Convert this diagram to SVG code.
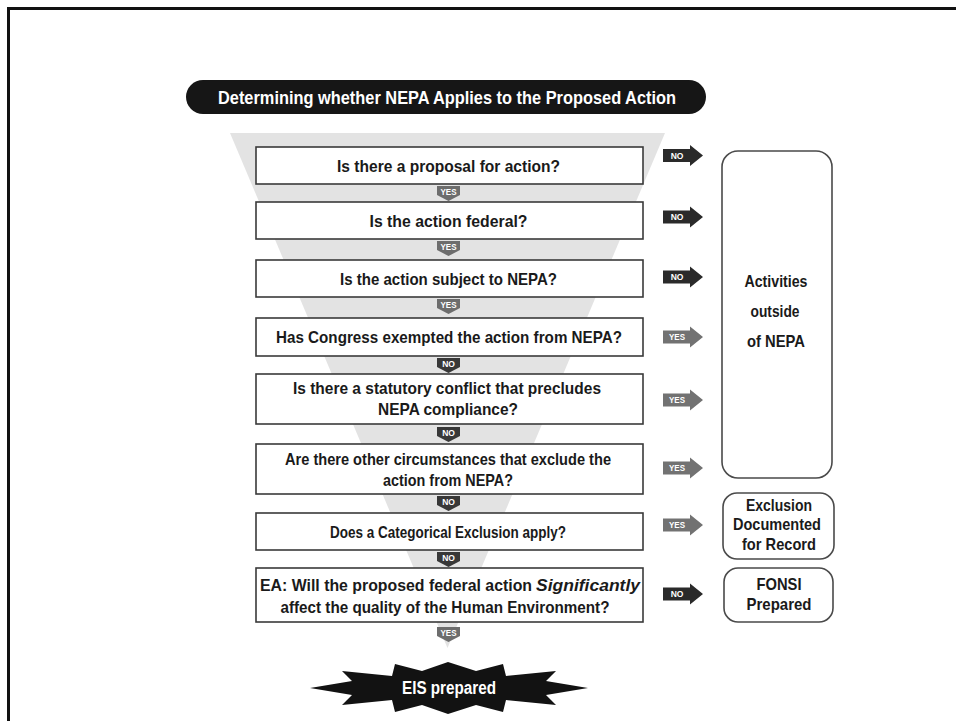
<svg xmlns="http://www.w3.org/2000/svg" width="956" height="721" viewBox="0 0 956 721">
  <style>
    .q { fill: #fff; stroke: #3a3a3a; stroke-width: 1.6; }
    .qt { font-family: "Liberation Sans", Arial, sans-serif; font-weight: 700; font-size: 16.5px; fill: #1a1a1a; text-anchor: middle; }
    .rt { font-family: "Liberation Sans", Arial, sans-serif; font-weight: 700; font-size: 16.5px; fill: #1a1a1a; text-anchor: middle; }
    .res { fill: #fff; stroke: #4a4a4a; stroke-width: 1.6; }
    .tab-yes { fill: #6d6d6d; }
    .tab-no { fill: #383838; }
    .arr-no { fill: #2a2a2a; }
    .arr-yes { fill: #727272; }
    .lbl { font-family: "Liberation Sans", Arial, sans-serif; font-weight: 700; font-size: 8.5px; fill: #fff; text-anchor: middle; }
    .white { font-family: "Liberation Sans", Arial, sans-serif; font-weight: 700; fill: #fff; text-anchor: middle; }
  </style>
  <defs>
    <!-- right-pointing answer arrow, origin at left edge / vertical centre -->
    <path id="rarrow" d="M0,-6.5 H27 V-10.5 L40,0 L27,10.5 V6.5 H0 Z"/>
    <!-- downward answer tab, origin at top centre -->
    <path id="dtab" d="M-11.5,0 H11.5 V9 L0,15 L-11.5,9 Z"/>
  </defs>

  <rect width="956" height="721" fill="#fff"/>
  <!-- page frame -->
  <path d="M8.5,721 V8.5 H956" fill="none" stroke="#111" stroke-width="3"/>

  <!-- title -->
  <g id="title">
    <rect x="186" y="80" width="520" height="34" rx="17" fill="#161616"/>
    <text class="white" x="447" y="103.5" font-size="18.5" textLength="458" lengthAdjust="spacingAndGlyphs">Determining whether NEPA Applies to the Proposed Action</text>
  </g>

  <!-- funnel backdrop -->
  <polygon points="230,133 665,133 447.5,648" fill="#e3e3e3"/>

  <!-- connectors: answer tabs and arrows -->
  <g id="connectors">
    <use href="#dtab" class="tab-yes" x="448.5" y="186"/>
    <text class="lbl" x="448.5" y="194.5" textLength="16" lengthAdjust="spacingAndGlyphs">YES</text>
    <use href="#dtab" class="tab-yes" x="448.5" y="241"/>
    <text class="lbl" x="448.5" y="249.5" textLength="16" lengthAdjust="spacingAndGlyphs">YES</text>
    <use href="#dtab" class="tab-yes" x="448.5" y="299"/>
    <text class="lbl" x="448.5" y="307.5" textLength="16" lengthAdjust="spacingAndGlyphs">YES</text>
    <use href="#dtab" class="tab-no" x="448.5" y="358"/>
    <text class="lbl" x="448.5" y="366.5">NO</text>
    <use href="#dtab" class="tab-no" x="448.5" y="427"/>
    <text class="lbl" x="448.5" y="435.5">NO</text>
    <use href="#dtab" class="tab-no" x="448.5" y="496"/>
    <text class="lbl" x="448.5" y="504.5">NO</text>
    <use href="#dtab" class="tab-no" x="448.5" y="552"/>
    <text class="lbl" x="448.5" y="560.5">NO</text>
    <use href="#dtab" class="tab-yes" x="448.5" y="627"/>
    <text class="lbl" x="448.5" y="635.5" textLength="16" lengthAdjust="spacingAndGlyphs">YES</text>

    <use href="#rarrow" class="arr-no" x="663" y="155.5"/>
    <text class="lbl" x="677" y="158.5">NO</text>
    <use href="#rarrow" class="arr-no" x="663" y="217"/>
    <text class="lbl" x="677" y="220">NO</text>
    <use href="#rarrow" class="arr-no" x="663" y="277"/>
    <text class="lbl" x="677" y="280">NO</text>
    <use href="#rarrow" class="arr-yes" x="663" y="337"/>
    <text class="lbl" x="677" y="340" textLength="16" lengthAdjust="spacingAndGlyphs">YES</text>
    <use href="#rarrow" class="arr-yes" x="663" y="400"/>
    <text class="lbl" x="677" y="403" textLength="16" lengthAdjust="spacingAndGlyphs">YES</text>
    <use href="#rarrow" class="arr-yes" x="663" y="468"/>
    <text class="lbl" x="677" y="471" textLength="16" lengthAdjust="spacingAndGlyphs">YES</text>
    <use href="#rarrow" class="arr-yes" x="663" y="525"/>
    <text class="lbl" x="677" y="528" textLength="16" lengthAdjust="spacingAndGlyphs">YES</text>
    <use href="#rarrow" class="arr-no" x="663" y="594"/>
    <text class="lbl" x="677" y="597">NO</text>
  </g>

  <!-- question boxes -->
  <g id="q1">
    <rect class="q" x="256" y="147" width="387" height="37"/>
    <text class="qt" x="448.5" y="171.5" textLength="223" lengthAdjust="spacingAndGlyphs">Is there a proposal for action?</text>
  </g>
  <g id="q2">
    <rect class="q" x="256" y="202" width="387" height="37"/>
    <text class="qt" x="448.5" y="226.5" textLength="158" lengthAdjust="spacingAndGlyphs">Is the action federal?</text>
  </g>
  <g id="q3">
    <rect class="q" x="256" y="260" width="387" height="37"/>
    <text class="qt" x="448.5" y="284.5" textLength="217" lengthAdjust="spacingAndGlyphs">Is the action subject to NEPA?</text>
  </g>
  <g id="q4">
    <rect class="q" x="256" y="318" width="387" height="38"/>
    <text class="qt" x="449" y="342.5" textLength="346" lengthAdjust="spacingAndGlyphs">Has Congress exempted the action from NEPA?</text>
  </g>
  <g id="q5">
    <rect class="q" x="256" y="374" width="387" height="50"/>
    <text class="qt" x="447" y="394" textLength="308" lengthAdjust="spacingAndGlyphs">Is there a statutory conflict that precludes</text>
    <text class="qt" x="448" y="415" textLength="140" lengthAdjust="spacingAndGlyphs">NEPA compliance?</text>
  </g>
  <g id="q6">
    <rect class="q" x="256" y="444" width="387" height="50"/>
    <text class="qt" x="448" y="465" textLength="326" lengthAdjust="spacingAndGlyphs">Are there other circumstances that exclude the</text>
    <text class="qt" x="448" y="486" textLength="130" lengthAdjust="spacingAndGlyphs">action from NEPA?</text>
  </g>
  <g id="q7">
    <rect class="q" x="256" y="513" width="387" height="37"/>
    <text class="qt" x="448" y="537.5" textLength="236" lengthAdjust="spacingAndGlyphs">Does a Categorical Exclusion apply?</text>
  </g>
  <g id="q8">
    <rect class="q" x="256" y="568" width="387" height="54"/>
    <text class="qt" x="396" y="591" textLength="272" lengthAdjust="spacingAndGlyphs">EA: Will the proposed federal action</text>
    <text class="qt" x="588" y="591" font-size="17.5" font-style="italic" textLength="104" lengthAdjust="spacingAndGlyphs">Significantly</text>
    <text class="qt" x="445" y="613" textLength="329" lengthAdjust="spacingAndGlyphs">affect the quality of the Human Environment?</text>
  </g>

  <!-- outcome boxes -->
  <g id="outside">
    <rect class="res" x="722" y="151" width="110" height="327" rx="16"/>
    <text class="rt" x="776" y="287" textLength="63" lengthAdjust="spacingAndGlyphs">Activities</text>
    <text class="rt" x="775" y="317" textLength="49" lengthAdjust="spacingAndGlyphs">outside</text>
    <text class="rt" x="776" y="347" textLength="58" lengthAdjust="spacingAndGlyphs">of NEPA</text>
  </g>
  <g id="exclusion">
    <rect class="res" x="723" y="493" width="111" height="66" rx="14"/>
    <text class="rt" x="779" y="511" textLength="66" lengthAdjust="spacingAndGlyphs">Exclusion</text>
    <text class="rt" x="777" y="530" textLength="88" lengthAdjust="spacingAndGlyphs">Documented</text>
    <text class="rt" x="779" y="550" textLength="74" lengthAdjust="spacingAndGlyphs">for Record</text>
  </g>
  <g id="fonsi">
    <rect class="res" x="724" y="568" width="109" height="54" rx="14"/>
    <text class="rt" x="779" y="590" textLength="45" lengthAdjust="spacingAndGlyphs">FONSI</text>
    <text class="rt" x="779" y="610" textLength="65" lengthAdjust="spacingAndGlyphs">Prepared</text>
  </g>

  <!-- final outcome burst -->
  <g id="eis">
    <path fill="#121212" d="M310,688 L352,681 L342,671 L392,676 L395,664 L422,671 L448,662 L476,671 L503,664 L506,676 L556,671 L546,681 L588,688 L546,695 L556,705 L506,700 L503,712 L476,705 L448,714 L422,705 L395,712 L392,700 L342,705 L352,695 Z"/>
    <text class="white" x="449" y="694" font-size="17.5" textLength="94" lengthAdjust="spacingAndGlyphs">EIS prepared</text>
  </g>
</svg>
